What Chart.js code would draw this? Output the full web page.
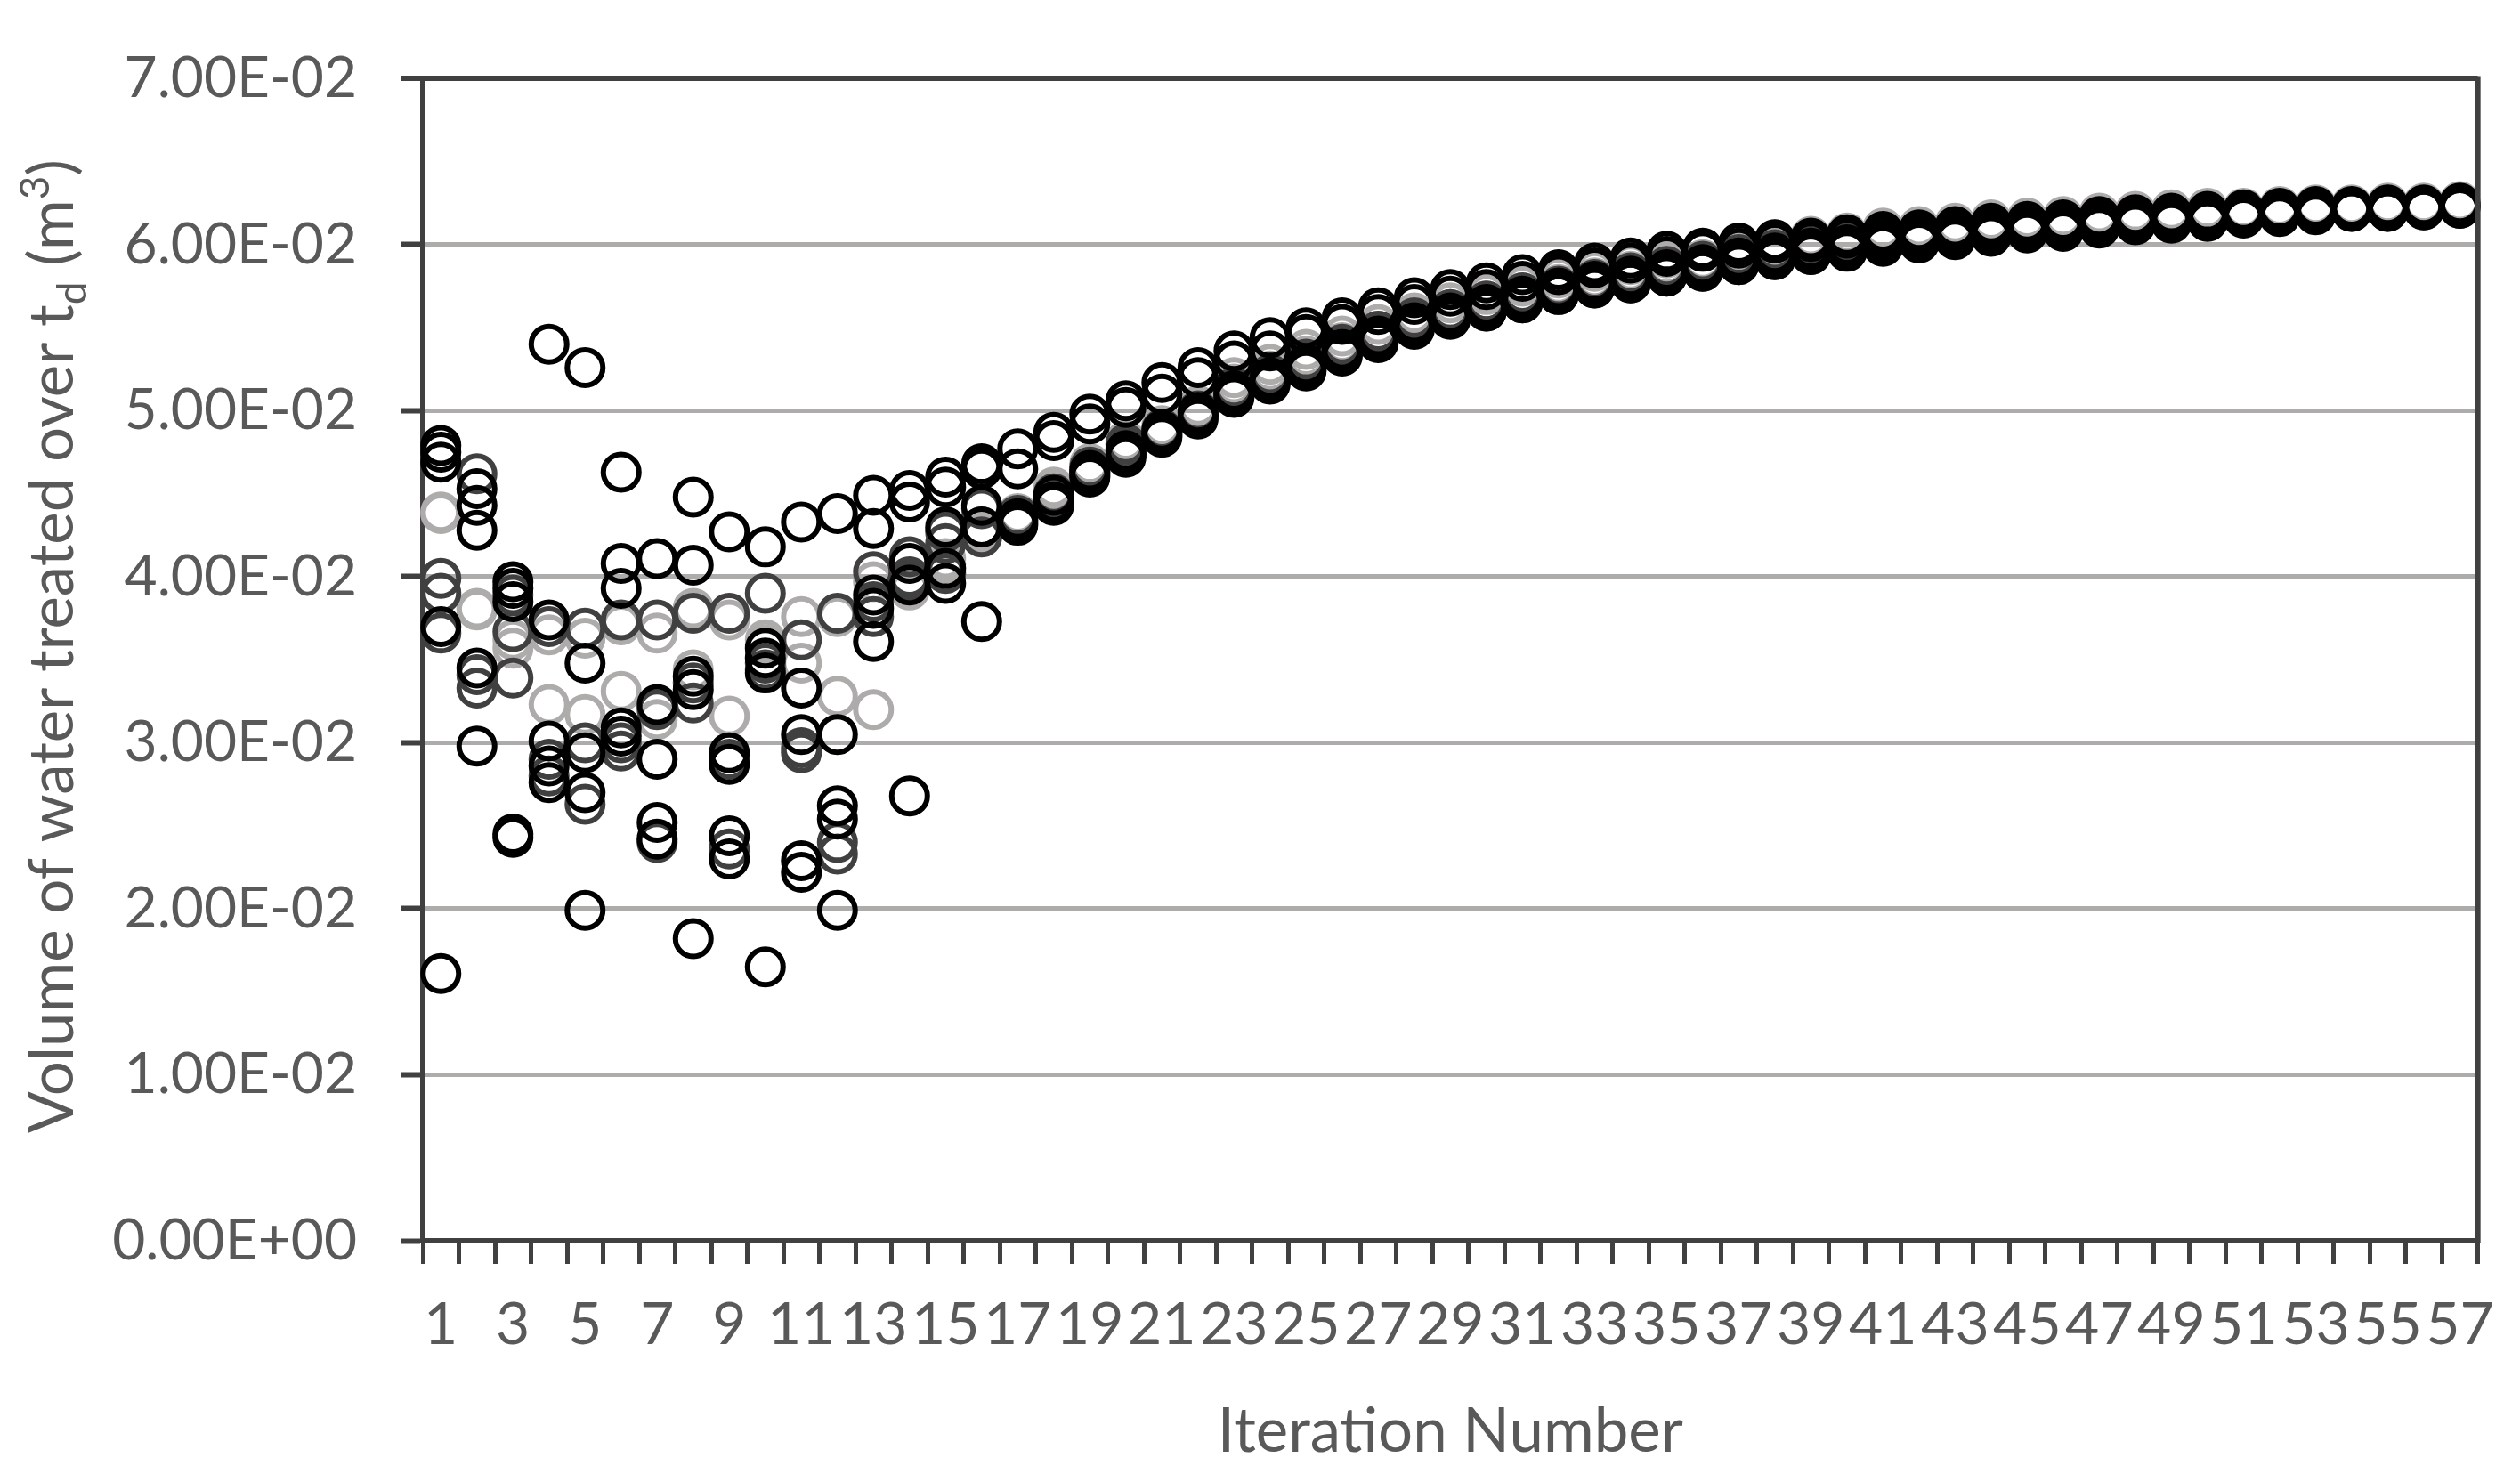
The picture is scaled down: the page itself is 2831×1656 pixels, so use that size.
<!DOCTYPE html>
<html>
<head>
<meta charset="utf-8">
<title>Volume of water treated per iteration</title>
<script src="https://cdn.jsdelivr.net/npm/chart.js@4.4.1/dist/chart.umd.min.js"></script>
<style>
  html, body { margin: 0; padding: 0; background: #ffffff; }
  #wrap { width: 2831px; height: 1656px; position: relative; }
</style>
</head>
<body>
<div id="wrap"><canvas id="volumeChart"></canvas></div>
<script>
// iteration numbers (x categories)
const iterations = [
  "1", "2", "3", "4", "5", "6", "7", "8", "9", "10",
  "11", "12", "13", "14", "15", "16", "17", "18", "19", "20",
  "21", "22", "23", "24", "25", "26", "27", "28", "29", "30",
  "31", "32", "33", "34", "35", "36", "37", "38", "39", "40",
  "41", "42", "43", "44", "45", "46", "47", "48", "49", "50",
  "51", "52", "53", "54", "55", "56", "57"
];

// y tick values (m3)
const yTicks = [0, 0.01, 0.02, 0.03, 0.04, 0.05, 0.06, 0.07];

// black markers
const black1 = [0.0479, 0.0453, 0.0397, 0.0540, 0.0526, 0.0463, 0.0411, 0.0448, 0.0427, 0.0418, 0.0433, 0.0438, 0.0449, 0.0452, 0.0460, 0.0468,
  0.0477, 0.0487, 0.0498, 0.0506, 0.0517, 0.0526, 0.0536, 0.0544, 0.0550, 0.0556, 0.0562, 0.0568, 0.0573, 0.0577, 0.0582, 0.0585, 0.0589, 0.0592,
  0.0596, 0.0598, 0.0601, 0.0603, 0.0604, 0.0606, 0.0608, 0.0609, 0.0611, 0.0613, 0.0614, 0.0615, 0.0617, 0.0618, 0.0619, 0.0620, 0.0621,
  0.0622, 0.0623, 0.0623, 0.0624, 0.0624, 0.0625];
const black2 = [0.0475, 0.0443, 0.0393, 0.0374, 0.0348, 0.0408, 0.0323, 0.0407, 0.0294, 0.0357, 0.0333, 0.0305, 0.0429, 0.0445, 0.0454, 0.0465,
  0.0465, 0.0482, 0.0492, 0.0502, 0.0510, 0.0520, 0.0530, 0.0536, 0.0546, 0.0552, 0.0558, 0.0564, 0.0569, 0.0573, 0.0578, 0.0582, 0.0586, 0.0589,
  0.0593, 0.0596, 0.0598, 0.0601, 0.0602, 0.0604, 0.0606, 0.0607, 0.0609, 0.0611, 0.0612, 0.0613, 0.0615, 0.0616, 0.0617, 0.0618, 0.0619,
  0.0620, 0.0621, 0.0622, 0.0623, 0.0623, 0.0624];
const black3 = [0.0469, 0.0428, 0.0385, 0.0301, 0.0294, 0.0393, 0.0290, 0.0340, 0.0287, 0.0351, 0.0305, 0.0262, 0.0389, 0.0408, 0.0430, 0.0443,
  0.0435, 0.0449, 0.0464, 0.0476, 0.0488, 0.0499, 0.0512, 0.0520, 0.0528, 0.0537, 0.0545, 0.0553, 0.0559, 0.0564, 0.0569, 0.0574, 0.0578, 0.0581,
  0.0585, 0.0588, 0.0592, 0.0595, 0.0598, 0.0600, 0.0603, 0.0605, 0.0607, 0.0609, 0.0611, 0.0612, 0.0614, 0.0615, 0.0616, 0.0617, 0.0619,
  0.0620, 0.0621, 0.0622, 0.0622, 0.0623, 0.0624];
const black4 = [0.0370, 0.0345, 0.0245, 0.0286, 0.0270, 0.0309, 0.0252, 0.0332, 0.0244, 0.0342, 0.0229, 0.0254, 0.0381, 0.0395, 0.0405, 0.0373,
  0.0433, 0.0445, 0.0462, 0.0474, 0.0486, 0.0497, 0.0510, 0.0518, 0.0526, 0.0535, 0.0543, 0.0551, 0.0557, 0.0562, 0.0567, 0.0572, 0.0576, 0.0579,
  0.0583, 0.0586, 0.0590, 0.0593, 0.0596, 0.0598, 0.0601, 0.0603, 0.0605, 0.0607, 0.0609, 0.0610, 0.0612, 0.0614, 0.0615, 0.0616, 0.0617,
  0.0618, 0.0619, 0.0621, 0.0621, 0.0622, 0.0623];
const black5 = [0.0161, 0.0298, 0.0243, 0.0276, 0.0199, 0.0304, 0.0242, 0.0182, 0.0230, 0.0165, 0.0222, 0.0199, 0.0361, 0.0268, 0.0396, 0.0430,
  0.0431, 0.0443, 0.0460, 0.0472, 0.0484, 0.0495, 0.0508, 0.0516, 0.0524, 0.0533, 0.0541, 0.0549, 0.0555, 0.0560, 0.0565, 0.0570, 0.0574, 0.0577,
  0.0581, 0.0584, 0.0588, 0.0591, 0.0594, 0.0596, 0.0599, 0.0601, 0.0603, 0.0605, 0.0607, 0.0608, 0.0610, 0.0612, 0.0613, 0.0614, 0.0616,
  0.0617, 0.0618, 0.0620, 0.0620, 0.0621, 0.0622];

// dark grey markers
const dark1 = [0.0399, 0.0462, 0.0389, 0.0370, 0.0369, 0.0374, 0.0374, 0.0378, 0.0378, 0.0390, 0.0362, 0.0378, 0.0403, 0.0412, 0.0427, 0.0441,
  0.0437, 0.0450, 0.0466, 0.0480, 0.0489, 0.0500, 0.0514, 0.0522, 0.0531, 0.0540, 0.0548, 0.0556, 0.0561, 0.0566, 0.0571, 0.0575, 0.0579, 0.0583,
  0.0587, 0.0590, 0.0594, 0.0597, 0.0599, 0.0601, 0.0604, 0.0606, 0.0608, 0.0610, 0.0612, 0.0613, 0.0615, 0.0616, 0.0617, 0.0618, 0.0619,
  0.0620, 0.0621, 0.0622, 0.0622, 0.0623, 0.0624];
const dark2 = [0.0390, 0.0341, 0.0367, 0.0290, 0.0300, 0.0300, 0.0320, 0.0336, 0.0290, 0.0348, 0.0297, 0.0240, 0.0385, 0.0400, 0.0420, 0.0430,
  0.0434, 0.0447, 0.0463, 0.0477, 0.0487, 0.0498, 0.0511, 0.0520, 0.0528, 0.0537, 0.0545, 0.0553, 0.0559, 0.0563, 0.0568, 0.0572, 0.0576, 0.0580,
  0.0584, 0.0587, 0.0591, 0.0594, 0.0597, 0.0599, 0.0602, 0.0604, 0.0606, 0.0608, 0.0610, 0.0611, 0.0613, 0.0615, 0.0616, 0.0617, 0.0618,
  0.0619, 0.0620, 0.0621, 0.0621, 0.0622, 0.0623];
const dark3 = [0.0366, 0.0333, 0.0339, 0.0280, 0.0263, 0.0295, 0.0240, 0.0324, 0.0236, 0.0344, 0.0294, 0.0233, 0.0376, 0.0398, 0.0402, 0.0424,
  0.0432, 0.0444, 0.0461, 0.0474, 0.0485, 0.0496, 0.0509, 0.0517, 0.0525, 0.0534, 0.0542, 0.0550, 0.0556, 0.0560, 0.0565, 0.0570, 0.0574, 0.0577,
  0.0581, 0.0584, 0.0588, 0.0591, 0.0594, 0.0597, 0.0600, 0.0602, 0.0604, 0.0606, 0.0608, 0.0609, 0.0611, 0.0613, 0.0614, 0.0615, 0.0617,
  0.0618, 0.0619, 0.0620, 0.0620, 0.0621, 0.0622];

// light grey markers
const light1 = [0.0439, 0.0381, 0.0362, 0.0365, 0.0363, 0.0371, 0.0366, 0.0381, 0.0374, 0.0359, 0.0376, 0.0376, 0.0397, 0.0395, 0.0411, 0.0427,
  0.0438, 0.0454, 0.0468, 0.0482, 0.0491, 0.0503, 0.0520, 0.0528, 0.0537, 0.0545, 0.0552, 0.0559, 0.0565, 0.0570, 0.0575, 0.0580, 0.0584, 0.0588,
  0.0592, 0.0596, 0.0600, 0.0603, 0.0605, 0.0607, 0.0610, 0.0611, 0.0613, 0.0615, 0.0616, 0.0617, 0.0619, 0.0620, 0.0621, 0.0622, 0.0622,
  0.0623, 0.0624, 0.0624, 0.0625, 0.0625, 0.0626];
const light2 = [0.0438, 0.0380, 0.0357, 0.0323, 0.0317, 0.0331, 0.0314, 0.0344, 0.0316, 0.0362, 0.0348, 0.0328, 0.0320, 0.0392, 0.0408, 0.0425,
  0.0436, 0.0451, 0.0466, 0.0479, 0.0489, 0.0500, 0.0516, 0.0524, 0.0533, 0.0541, 0.0548, 0.0555, 0.0561, 0.0566, 0.0571, 0.0576, 0.0580, 0.0584,
  0.0588, 0.0591, 0.0595, 0.0598, 0.0600, 0.0603, 0.0605, 0.0607, 0.0609, 0.0611, 0.0613, 0.0614, 0.0616, 0.0617, 0.0618, 0.0619, 0.0620,
  0.0621, 0.0622, 0.0623, 0.0623, 0.0624, 0.0625];

const BLACK = "#000000";
const DARK = "#404040";
const LIGHT = "#AEABAB";
const TEXT = "#595959";
const AXIS = "#404040";

function toSci(v) {
  if (Math.abs(v) < 1e-12) return "0.00E+00";
  const parts = v.toExponential(2).split("e");
  const exp = parseInt(parts[1], 10);
  return parts[0] + "E" + (exp < 0 ? "-" : "+") + String(Math.abs(exp)).padStart(2, "0");
}

function series(values, color) {
  return {
    data: values,
    showLine: false,
    pointStyle: "circle",
    pointRadius: 20,
    pointHoverRadius: 20,
    pointBorderWidth: 6,
    pointBackgroundColor: "rgba(0,0,0,0)",
    pointBorderColor: color,
    borderColor: color,
    backgroundColor: "rgba(0,0,0,0)",
  };
}

// y title with subscript d and superscript 3, plus right border of plot area
const framePlugin = {
  id: "frame",
  afterDraw(chart) {
    const { ctx, chartArea } = chart;
    ctx.save();
    ctx.strokeStyle = AXIS;
    ctx.lineWidth = 6;
    ctx.beginPath();
    ctx.moveTo(chartArea.right, chartArea.top - 3);
    ctx.lineTo(chartArea.right, chartArea.bottom + 3);
    ctx.stroke();
    ctx.restore();

    const big = 69;
    const small = 46;
    const pieces = [
      { t: "Volume of water treated over t", size: big, dy: 0 },
      { t: "d", size: small, dy: 15 },
      { t: " (m", size: big, dy: 0 },
      { t: "3", size: small, dy: -27 },
      { t: ")", size: big, dy: 0 },
    ];
    ctx.save();
    ctx.fillStyle = TEXT;
    ctx.textBaseline = "alphabetic";
    let total = 0;
    pieces.forEach((p) => {
      ctx.font = p.size + "px Lato";
      p.w = ctx.measureText(p.t).width;
      total += p.w;
    });
    ctx.translate(82, 726);
    ctx.rotate(-Math.PI / 2);
    let x = -total / 2;
    pieces.forEach((p) => {
      ctx.font = p.size + "px Lato";
      ctx.fillText(p.t, x, p.dy);
      x += p.w;
    });
    ctx.restore();
  },
};

const ctx = document.getElementById("volumeChart").getContext("2d");
Chart.defaults.font.family = "Lato";
Chart.defaults.color = TEXT;

new Chart(ctx, {
  type: "line",
  data: {
    labels: iterations,
    datasets: [
      series(black1, BLACK),
      series(black2, BLACK),
      series(black3, BLACK),
      series(black4, BLACK),
      series(black5, BLACK),
      series(dark1, DARK),
      series(dark2, DARK),
      series(dark3, DARK),
      series(light1, LIGHT),
      series(light2, LIGHT),
    ],
  },
  options: {
    responsive: true,
    maintainAspectRatio: false,
    devicePixelRatio: 1,
    animation: false,
    events: [],
    layout: {
      padding: { top: 45, right: 34, left: 0, bottom: 0 },
    },
    plugins: {
      legend: { display: false },
      tooltip: { enabled: false },
    },
    scales: {
      x: {
        type: "category",
        offset: true,
        afterFit(scale) {
          scale.height = 262;
        },
        grid: {
          offset: true,
          drawOnChartArea: false,
          drawTicks: true,
          tickLength: 26,
          tickColor: AXIS,
          tickWidth: 5,
        },
        border: { display: true, color: AXIS, width: 6 },
        ticks: {
          autoSkip: false,
          maxRotation: 0,
          minRotation: 0,
          padding: 29,
          color: TEXT,
          font: { size: 66 },
          callback(value, index) {
            return index % 2 === 0 ? iterations[index] : "";
          },
        },
        title: {
          display: true,
          text: "Iteration Number",
          color: TEXT,
          font: { size: 69 },
          padding: { top: 0, bottom: 6 },
        },
      },
      y: {
        min: yTicks[0],
        max: yTicks[yTicks.length - 1],
        afterFit(scale) {
          scale.width = 475;
        },
        afterBuildTicks(scale) {
          scale.ticks = yTicks.map((v) => ({ value: v }));
        },
        grid: {
          color(c) {
            return c.tick && c.tick.value > 0.0695 ? AXIS : LIGHT;
          },
          lineWidth(c) {
            return c.tick && c.tick.value > 0.0695 ? 6 : 5;
          },
          drawTicks: true,
          tickLength: 24,
          tickColor: AXIS,
          tickWidth: 6,
        },
        border: { display: true, color: AXIS, width: 6 },
        ticks: {
          padding: 50,
          color: TEXT,
          font: { size: 64 },
          callback(value) {
            return toSci(value);
          },
        },
      },
    },
  },
  plugins: [framePlugin],
});
</script>
</body>
</html>
